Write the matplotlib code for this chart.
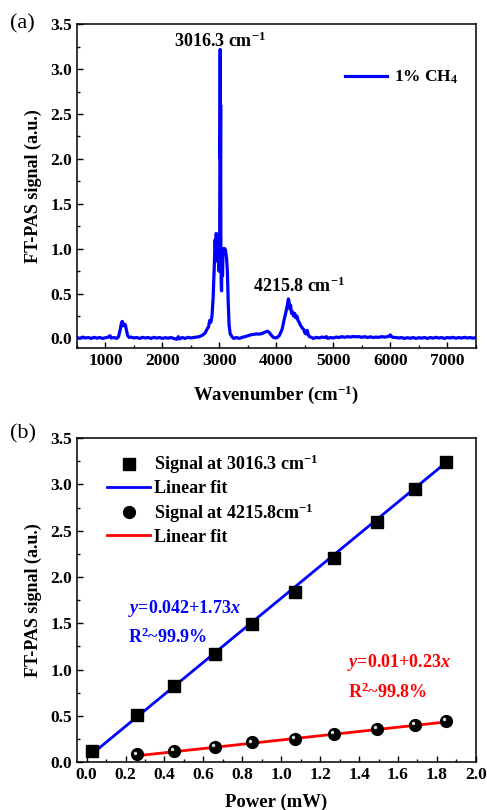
import matplotlib
matplotlib.use('Agg')
import matplotlib.pyplot as plt
from matplotlib.ticker import MultipleLocator
import matplotlib.transforms as mtransforms

plt.rcParams['font.family'] = ['Liberation Serif', 'DejaVu Serif']
plt.rcParams['font.weight'] = 'bold'
plt.rcParams['axes.labelweight'] = 'bold'
plt.rcParams['mathtext.fontset'] = 'custom'
plt.rcParams['mathtext.rm'] = 'Liberation Serif:bold'
plt.rcParams['mathtext.it'] = 'Liberation Serif:bold:italic'
plt.rcParams['mathtext.bf'] = 'Liberation Serif:bold'
plt.rcParams['mathtext.default'] = 'regular'

# (a) FT-PAS spectrum of 1% CH4
wavenumber = [500, 550, 600, 650, 700, 750, 800, 850, 900, 950, 1000, 1050, 1080, 1100, 1150, 1200,
              1230, 1260, 1280, 1295, 1310, 1330, 1350, 1370, 1390, 1420, 1450, 1500, 1550, 1600,
              1650, 1700, 1750, 1800, 1850, 1900, 1950, 2000, 2050, 2100, 2150, 2200, 2250, 2280,
              2300, 2350, 2400, 2450, 2500, 2550, 2600, 2650, 2700, 2750, 2780, 2810, 2830, 2850,
              2870, 2890, 2910, 2925, 2935, 2945, 2955, 2965, 2975, 2985, 2995, 3005, 3010, 3014,
              3018, 3022, 3026, 3032, 3038, 3045, 3055, 3065, 3080, 3095, 3110, 3125, 3140, 3155,
              3170, 3190, 3220, 3250, 3300, 3350, 3400, 3450, 3500, 3550, 3600, 3650, 3700, 3750,
              3800, 3840, 3870, 3900, 3950, 4000, 4050, 4100, 4140, 4170, 4195, 4210, 4220, 4235,
              4250, 4265, 4280, 4300, 4320, 4340, 4360, 4380, 4400, 4420, 4450, 4480, 4500, 4520,
              4540, 4560, 4580, 4620, 4650, 4700, 4750, 4800, 4850, 4880, 4900, 4950, 5000, 5050,
              5100, 5150, 5200, 5250, 5300, 5350, 5400, 5450, 5500, 5550, 5600, 5650, 5700, 5750,
              5800, 5850, 5900, 5950, 5980, 6000, 6020, 6050, 6100, 6150, 6200, 6250, 6300, 6350,
              6400, 6450, 6500, 6550, 6600, 6650, 6700, 6750, 6800, 6850, 6900, 6950, 7000, 7050,
              7100, 7150, 7200, 7250, 7300, 7350, 7400, 7450, 7500]
signal = [0.01, 0.0, 0.015, 0.005, 0.01, 0.0, 0.012, 0.004, 0.01, 0.0, 0.008, 0.015, 0.03, 0.005, 0.01, 0.0,
          0.02, 0.1, 0.17, 0.19, 0.14, 0.16, 0.15, 0.09, 0.03, 0.01, 0.015, 0.005, 0.01, 0.0,
          0.012, 0.005, 0.01, 0.0, 0.012, 0.004, 0.01, 0.0, 0.008, 0.003, 0.01, 0.0, -0.01, 0.02,
          -0.005, 0.01, 0.0, 0.012, 0.005, 0.01, 0.015, 0.02, 0.035, 0.06, 0.1, 0.13, 0.2, 0.18,
          0.25, 0.45, 0.8, 1.1, 0.95, 1.17, 0.9, 1.15, 0.85, 1.05, 0.75, 1.2, 2.6, 3.22,
          2.0, 2.6, 1.0, 0.6, 0.53, 0.9, 0.7, 1.0, 0.95, 1.0, 0.97, 0.9, 0.75, 0.4,
          0.15, 0.05, 0.02, 0.0, 0.01, 0.0, 0.012, 0.02, 0.03, 0.04, 0.045, 0.05, 0.048, 0.055,
          0.07, 0.08, 0.07, 0.045, 0.01, 0.005, 0.03, 0.1, 0.22, 0.3, 0.38, 0.44, 0.42, 0.33,
          0.37, 0.28, 0.3, 0.25, 0.28, 0.23, 0.25, 0.2, 0.18, 0.15, 0.12, 0.1, 0.06, 0.05,
          0.09, 0.04, 0.02, 0.01, 0.0, 0.012, 0.005, 0.015, 0.01, 0.02, 0.0, 0.01, 0.005, 0.015,
          0.01, 0.02, 0.012, 0.02, 0.015, 0.022, 0.018, 0.02, 0.012, 0.02, 0.01, 0.018, 0.01, 0.015,
          0.012, 0.02, 0.015, 0.02, 0.025, 0.04, 0.02, 0.012, 0.01, 0.005, 0.01, 0.0, 0.008, 0.002,
          0.01, 0.0, 0.008, 0.004, 0.01, 0.0, 0.01, 0.003, 0.012, 0.004, 0.01, 0.0, 0.01, 0.005,
          0.012, 0.002, 0.01, 0.004, 0.012, 0.005, 0.01, 0.003, 0.008]

# (b) peak signal versus laser power
power_a = [0.027, 0.26, 0.45, 0.66, 0.85, 1.07, 1.27, 1.49, 1.686, 1.845]
peak_a = [0.12, 0.51, 0.82, 1.17, 1.49, 1.84, 2.21, 2.60, 2.95, 3.24]
power_b = [0.26, 0.45, 0.66, 0.85, 1.07, 1.27, 1.49, 1.686, 1.845]
peak_b = [0.085, 0.125, 0.165, 0.215, 0.255, 0.305, 0.36, 0.405, 0.445]
fit_a = (0.042, 1.73)
fit_b = (0.01, 0.23)

fig = plt.figure(figsize=(4.87, 8.10), dpi=100)
ax1 = fig.add_axes([0.158, 0.570, 0.819, 0.400])
ax2 = fig.add_axes([0.158, 0.059, 0.819, 0.400])

for ax in (ax1, ax2):
    ax.tick_params(which='both', direction='in', labelsize=12.5, width=1)
    ax.tick_params(which='major', length=4.5)
    ax.tick_params(which='minor', length=2.5)
    for s in ax.spines.values():
        s.set_linewidth(1.1)

# top panel
ax1.plot(wavenumber, signal, color='#0000ff', lw=2.3, label='1% CH$_4$')
ax1.set_xlim(500, 7500)
ax1.set_ylim(-0.11, 3.5)
ax1.xaxis.set_major_locator(MultipleLocator(1000))
ax1.xaxis.set_minor_locator(MultipleLocator(500))
ax1.yaxis.set_major_locator(MultipleLocator(0.5))
ax1.yaxis.set_minor_locator(MultipleLocator(0.25))
ax1.set_xlabel('Wavenumber (cm$^{-1}$)', fontsize=13.5, labelpad=10)
ax1.set_ylabel('FT-PAS signal (a.u.)', fontsize=13, labelpad=6)
ax1.text(3016, 3.2, '3016.3 cm$^{-1}$', ha='center', va='bottom', fontsize=13)
ax1.text(4400, 0.47, '4215.8 cm$^{-1}$', ha='center', va='bottom', fontsize=13)
ax1.legend(loc='upper right', frameon=False, fontsize=12.5, handlelength=2.4,
           handletextpad=0.4, bbox_to_anchor=(0.995, 0.91))
fig.text(0.02, 0.983, '(a)', fontsize=16, fontweight='normal', va='top')

# bottom panel
xa = [power_a[0], power_a[-1]]
xb = [power_b[0], power_b[-1]]
ax2.plot(xa, [fit_a[0] + fit_a[1] * v for v in xa], color='#0000ff', lw=2, zorder=2)
ax2.plot(xb, [fit_b[0] + fit_b[1] * v for v in xb], color='#ff0000', lw=2, zorder=2)
ax2.plot(power_a, peak_a, 's', color='black', ms=8, zorder=3)
ax2.plot(power_b, peak_b, 'o', color='black', ms=8.5, zorder=3)
hl = mtransforms.offset_copy(ax2.transData, fig=fig, x=-1.3, y=1.3, units='points')
ax2.plot(power_b, peak_b, 'o', color='#d8d8d8', ms=2.5, mew=0, transform=hl, zorder=4)

h1, = ax2.plot([], [], 's', color='black', ms=8)
h2, = ax2.plot([], [], '-', color='#0000ff', lw=2)
h3, = ax2.plot([], [], 'o', color='black', ms=8.5)
h4, = ax2.plot([], [], '-', color='#ff0000', lw=2)
ax2.legend([h1, h2, h3, h4],
           ['Signal at 3016.3 cm$^{-1}$', 'Linear fit', 'Signal at 4215.8cm$^{-1}$', 'Linear fit'],
           loc='upper left', frameon=False, fontsize=13, handlelength=2.4,
           handletextpad=0.2, labelspacing=0.22, bbox_to_anchor=(0.035, 1.005))

ax2.set_xlim(-0.05, 2.0)
ax2.set_ylim(0, 3.5)
ax2.xaxis.set_major_locator(MultipleLocator(0.2))
ax2.xaxis.set_minor_locator(MultipleLocator(0.1))
ax2.yaxis.set_major_locator(MultipleLocator(0.5))
ax2.yaxis.set_minor_locator(MultipleLocator(0.25))
ax2.set_xlabel('Power (mW)', fontsize=13.5, labelpad=8)
ax2.set_ylabel('FT-PAS signal (a.u.)', fontsize=13, labelpad=6)
ax2.text(0.21, 1.66, '$\\mathit{y}$=0.042+1.73$\\mathit{x}$', color='#0000ff', fontsize=13, va='center')
ax2.text(0.21, 1.35, 'R$^{2}$~99.9%', color='#0000ff', fontsize=13, va='center')
ax2.text(1.34, 1.08, '$\\mathit{y}$=0.01+0.23$\\mathit{x}$', color='#ff0000', fontsize=13, va='center')
ax2.text(1.345, 0.76, 'R$^{2}$~99.8%', color='#ff0000', fontsize=13, va='center')
fig.text(0.02, 0.476, '(b)', fontsize=16, fontweight='normal', va='top')

fig.savefig('out.png', dpi=100)
